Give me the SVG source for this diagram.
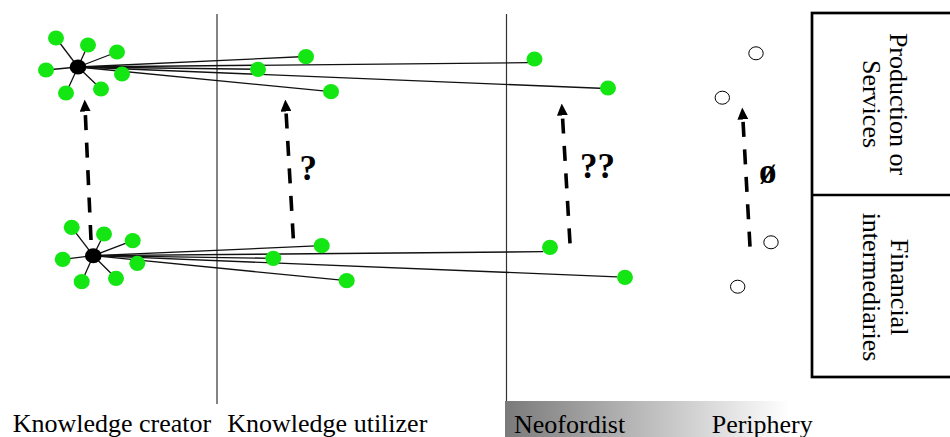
<svg xmlns="http://www.w3.org/2000/svg" width="950" height="437" viewBox="0 0 950 437">
<style>
.lbl{font-family:"Liberation Serif","Times New Roman",serif;font-size:26px;fill:#000}
.q{font-family:"Liberation Serif","Times New Roman",serif;font-size:35px;font-weight:bold;fill:#000}
.g{fill:#14e614}
.hub{fill:#000}
.o{fill:#fff;stroke:#000;stroke-width:1}
.e{stroke:#111;stroke-width:1.3;fill:none}
.v{stroke:#333;stroke-width:1.2}
.da{stroke:#000;stroke-width:3.6;stroke-dasharray:15 12.5;fill:none;marker-end:url(#ah)}
</style>
<defs>
<marker id="ah" markerUnits="userSpaceOnUse" markerWidth="12" markerHeight="11" viewBox="0 0 12 11" refX="0.5" refY="5.5" orient="auto">
<path d="M0,0 L12,5.5 L0,11 z" fill="#000"/>
</marker>
<linearGradient id="grad" x1="0" y1="0" x2="1" y2="0">
<stop offset="0" stop-color="#7a7a7a"/>
<stop offset="1" stop-color="#ffffff"/>
</linearGradient>
</defs>
<rect x="505" y="401" width="285" height="36" fill="url(#grad)"/>
<line class="v" x1="217" y1="14" x2="217" y2="404"/>
<line class="v" x1="506.5" y1="14" x2="506.5" y2="401"/>
<g id="box">
<rect x="812" y="13" width="140" height="364" fill="none" stroke="#000" stroke-width="2.7"/>
<line x1="812" y1="195" x2="952" y2="195" stroke="#000" stroke-width="2.7"/>
<g transform="translate(890,104) rotate(90)"><text class="lbl" text-anchor="middle" x="0" y="0">Production or</text><text class="lbl" text-anchor="middle" x="0" y="27">Services</text></g>
<g transform="translate(891,287) rotate(90)"><text class="lbl" text-anchor="middle" x="0" y="0">Financial</text><text class="lbl" text-anchor="middle" x="0" y="28">intermediaries</text></g>
</g>
<g id="connectors">
<line class="e" x1="78" y1="67" x2="56" y2="38"/>
<line class="e" x1="78" y1="67" x2="88" y2="45"/>
<line class="e" x1="78" y1="67" x2="117" y2="52"/>
<line class="e" x1="78" y1="67" x2="46" y2="70"/>
<line class="e" x1="78" y1="67" x2="66" y2="93"/>
<line class="e" x1="78" y1="67" x2="101" y2="89"/>
<line class="e" x1="78" y1="67" x2="306" y2="56.5"/>
<line class="e" x1="78" y1="67" x2="258" y2="69.3"/>
<line class="e" x1="78" y1="67" x2="528" y2="62.6"/>
<line class="e" x1="78" y1="67" x2="606" y2="88.5"/>
<line class="e" x1="78" y1="67" x2="331" y2="91.7"/>
<line class="e" x1="93.3" y1="255.7" x2="71.7" y2="227.3"/>
<line class="e" x1="93.3" y1="255.7" x2="104" y2="234"/>
<line class="e" x1="93.3" y1="255.7" x2="132.7" y2="240.7"/>
<line class="e" x1="93.3" y1="255.7" x2="62.7" y2="259.3"/>
<line class="e" x1="93.3" y1="255.7" x2="81.7" y2="281.7"/>
<line class="e" x1="93.3" y1="255.7" x2="116" y2="278.3"/>
<line class="e" x1="93.3" y1="255.7" x2="321.7" y2="245.7"/>
<line class="e" x1="93.3" y1="255.7" x2="273.3" y2="258.3"/>
<line class="e" x1="93.3" y1="255.7" x2="346.7" y2="280.7"/>
<line class="e" x1="93.3" y1="255.7" x2="543.3" y2="251.7"/>
<line class="e" x1="93.3" y1="255.7" x2="617" y2="276.8"/>
<path class="da" d="M91,240 L85.2,111"/>
<path class="da" d="M293.3,238.3 L286,111"/>
<path class="da" d="M570,243.3 L562.4,115"/>
<path class="da" d="M750,246.7 L742.9,119"/>
</g>
<g id="top-cluster">
<ellipse id="t1" class="g" cx="56" cy="38" rx="8" ry="7.6"/>
<ellipse id="t2" class="g" cx="88" cy="45" rx="8" ry="7.6"/>
<ellipse id="t3" class="g" cx="117" cy="52" rx="8" ry="7.6"/>
<ellipse id="t4" class="g" cx="46" cy="70" rx="8" ry="7.6"/>
<ellipse id="t5" class="g" cx="122" cy="74" rx="8" ry="7.6"/>
<ellipse id="t6" class="g" cx="66" cy="93" rx="8" ry="7.6"/>
<ellipse id="t7" class="g" cx="101" cy="89" rx="8" ry="7.6"/>
<ellipse id="hub-top" class="hub" cx="78" cy="67" rx="8.3" ry="7.5"/>
</g>
<g id="bottom-cluster">
<ellipse id="b1" class="g" cx="71.7" cy="227.3" rx="8" ry="7.6"/>
<ellipse id="b2" class="g" cx="104" cy="234" rx="8" ry="7.6"/>
<ellipse id="b3" class="g" cx="132.7" cy="240.7" rx="8" ry="7.6"/>
<ellipse id="b4" class="g" cx="62.7" cy="259.3" rx="8" ry="7.6"/>
<ellipse id="b5" class="g" cx="137.3" cy="263.3" rx="8" ry="7.6"/>
<ellipse id="b6" class="g" cx="81.7" cy="281.7" rx="8" ry="7.6"/>
<ellipse id="b7" class="g" cx="116" cy="278.3" rx="8" ry="7.6"/>
<ellipse id="hub-bottom" class="hub" cx="93.3" cy="255.7" rx="8.3" ry="7.5"/>
</g>
<g id="utilizer-nodes">
<ellipse id="u1" class="g" cx="306" cy="56.7" rx="8" ry="7.6"/>
<ellipse id="u2" class="g" cx="258" cy="69.3" rx="8" ry="7.6"/>
<ellipse id="u3" class="g" cx="331" cy="91.7" rx="8" ry="7.6"/>
<ellipse id="u4" class="g" cx="321.7" cy="245.7" rx="8" ry="7.6"/>
<ellipse id="u5" class="g" cx="273.3" cy="258.3" rx="8" ry="7.6"/>
<ellipse id="u6" class="g" cx="346.7" cy="280.7" rx="8" ry="7.6"/>
</g>
<g id="neofordist-nodes">
<ellipse id="n1" class="g" cx="534.5" cy="59" rx="8" ry="7.6"/>
<ellipse id="n2" class="g" cx="608" cy="88" rx="8" ry="7.6"/>
<ellipse id="n3" class="g" cx="550" cy="247.3" rx="8" ry="7.6"/>
<ellipse id="n4" class="g" cx="625" cy="277.3" rx="8" ry="7.6"/>
</g>
<g id="periphery-nodes">
<ellipse id="p1" class="o" cx="756" cy="53.3" rx="7.2" ry="6.5"/>
<ellipse id="p2" class="o" cx="722.3" cy="97.7" rx="7.2" ry="6.5"/>
<ellipse id="p3" class="o" cx="771" cy="242.3" rx="7.2" ry="6.5"/>
<ellipse id="p4" class="o" cx="737.7" cy="286.7" rx="7.2" ry="6.5"/>
</g>
<g id="marks">
<text class="q" x="299.5" y="180">?</text>
<text class="q" x="580" y="178">??</text>
<text class="q" x="759" y="183">ø</text>
</g>
<g id="labels">
<text class="lbl" x="12.7" y="431.7">Knowledge creator</text>
<text class="lbl" x="227.3" y="431.7">Knowledge utilizer</text>
<text class="lbl" x="514" y="432.5">Neofordist</text>
<text class="lbl" x="711.7" y="432.5">Periphery</text>
</g>
</svg>
